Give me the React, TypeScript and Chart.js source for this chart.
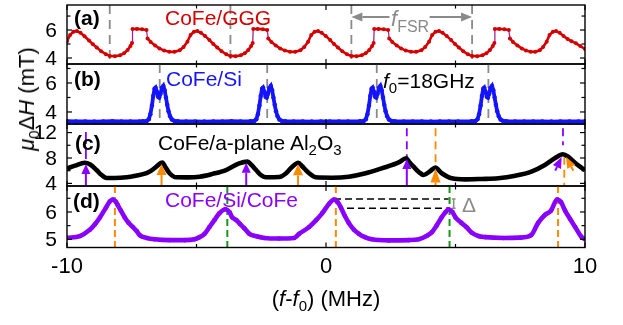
import React, { useEffect, useRef } from 'react';
import { Chart, registerables } from 'chart.js';

Chart.register(...registerables);

const FONT = '"Liberation Sans", Arial, Helvetica, sans-serif';
const W = 623;
const H = 325;

// ---------- shared x axis ----------
const xMin = -10;
const xMax = 10;
const xMajor = [-10, 0, 10];
const xMinor = [-5, 5];
const xLabels = [-10, 0, 10];

// ---------- (a) CoFe/GGG ----------
const aX = [
  -10.0, -9.88, -9.75, -9.62, -9.48, -9.32, -9.15, -9.0, -8.85, -8.68, -8.5,
  -8.35, -8.15, -7.95, -7.8, -7.66, -7.55, -7.49, -7.47, -7.3, -7.1, -6.93, -6.89, -6.77, -6.6, -6.43, -6.25, -6.05, -5.85, -5.65, -5.5, -5.35, -5.23, -5.1, -4.97, -4.83, -4.67, -4.5, -4.35, -4.2, -4.03, -3.85,
  -3.69, -3.49, -3.29, -3.14, -3.0, -2.89, -2.83, -2.81, -2.64, -2.44, -2.27, -2.23, -2.11, -1.94, -1.77, -1.59, -1.39, -1.19, -0.99, -0.84, -0.69, -0.57, -0.44, -0.31, -0.17, -0.01, 0.16, 0.31, 0.46, 0.63, 0.81,
  0.98, 1.18, 1.38, 1.53, 1.67, 1.78, 1.84, 1.86, 2.03, 2.23, 2.4, 2.44, 2.56, 2.73, 2.9, 3.08, 3.28, 3.48, 3.68, 3.83, 3.98, 4.1, 4.23, 4.36, 4.5, 4.66, 4.83, 4.98, 5.13, 5.3, 5.48,
  5.64, 5.84, 6.04, 6.19, 6.33, 6.44, 6.5, 6.52, 6.69, 6.89, 7.06, 7.1, 7.22, 7.39, 7.56, 7.72, 7.9, 8.08, 8.25, 8.38, 8.52, 8.63, 8.76, 8.88, 9.02, 9.17, 9.33, 9.48, 9.65, 9.82, 10.0,
];
const aY = [
  5.2, 5.65, 5.88, 5.93, 5.8, 5.55, 5.25, 4.98, 4.75, 4.48, 4.27,
  4.14, 4.13, 4.2, 4.33, 4.57, 4.85, 5.07, 6.07, 6.08, 6.06, 6.0, 5.4, 5.15, 4.9, 4.68, 4.53, 4.45, 4.44, 4.55, 4.78, 5.17, 5.65, 5.88, 5.93, 5.8, 5.58, 5.28, 5.0, 4.75, 4.48, 4.26,
  4.15, 4.13, 4.2, 4.33, 4.57, 4.85, 5.07, 6.07, 6.08, 6.06, 6.0, 5.4, 5.15, 4.9, 4.68, 4.53, 4.45, 4.44, 4.55, 4.78, 5.17, 5.65, 5.88, 5.93, 5.8, 5.58, 5.28, 5.0, 4.75, 4.48, 4.26,
  4.14, 4.13, 4.2, 4.33, 4.57, 4.85, 5.07, 6.07, 6.08, 6.06, 6.0, 5.4, 5.15, 4.9, 4.68, 4.53, 4.45, 4.44, 4.55, 4.78, 5.17, 5.65, 5.88, 5.93, 5.8, 5.58, 5.28, 5.0, 4.75, 4.48, 4.26,
  4.14, 4.13, 4.2, 4.33, 4.57, 4.85, 5.07, 6.07, 6.08, 6.06, 6.0, 5.4, 5.15, 4.9, 4.68, 4.53, 4.45, 4.44, 4.55, 4.78, 5.17, 5.65, 5.88, 5.93, 5.8, 5.58, 5.35, 5.2, 5.05, 4.85, 4.65,
];
const aDashX = [-8.35, -3.69, 0.98, 5.64];
const aRange = [3.57, 7.79];
const aMajor = [4, 6];
const aMinor = [5, 7];
const aLabels = [4, 6];
const aFsrLevel = 6.93;
const aFsrGap = [2.45, 4.0];

// ---------- (b) CoFe/Si ----------
const bX = [
  -10, -9.65, -9.3, -8.95, -8.6, -8.25, -7.9, -7.55, -7.2,
  -7.07, -6.92, -6.84, -6.78, -6.72, -6.67, -6.62, -6.58, -6.53, -6.48, -6.44, -6.39, -6.34, -6.28, -6.23, -6.18, -6.13, -6.08, -6.02, -5.95, -5.85, -5.72,
  -5.4, -5.05, -4.7, -4.35, -4.0, -3.65, -3.3,
  -2.92, -2.77, -2.69, -2.63, -2.57, -2.52, -2.47, -2.43, -2.38, -2.33, -2.29, -2.24, -2.19, -2.13, -2.08, -2.03, -1.98, -1.93, -1.87, -1.8, -1.7, -1.57,
  -1.25, -0.9, -0.55, -0.2, 0.15, 0.5, 0.85,
  1.31, 1.46, 1.54, 1.6, 1.66, 1.71, 1.76, 1.8, 1.85, 1.9, 1.94, 1.99, 2.04, 2.1, 2.15, 2.2, 2.25, 2.3, 2.36, 2.43, 2.53, 2.66,
  3.0, 3.35, 3.7, 4.05, 4.4, 4.75, 5.1,
  5.62, 5.77, 5.85, 5.91, 5.97, 6.02, 6.07, 6.11, 6.16, 6.21, 6.25, 6.3, 6.35, 6.41, 6.46, 6.51, 6.56, 6.61, 6.67, 6.74, 6.84, 6.97,
  7.3, 7.65, 8.0, 8.35, 8.7, 9.05, 9.4, 9.75, 10.0,
];
const bY = [
  3.36, 3.35, 3.35, 3.34, 3.35, 3.36, 3.35, 3.35, 3.35,
  3.36, 3.38, 3.5, 3.85, 4.45, 5.1, 5.6, 5.68, 5.4, 5.05, 5.0, 5.25, 5.65, 5.8, 5.5, 5.0, 4.5, 4.05, 3.7, 3.48, 3.38, 3.36,
  3.35, 3.35, 3.34, 3.35, 3.35, 3.36, 3.35,
  3.36, 3.38, 3.5, 3.85, 4.45, 5.1, 5.6, 5.68, 5.4, 5.05, 5.0, 5.25, 5.65, 5.8, 5.5, 5.0, 4.5, 4.05, 3.7, 3.48, 3.38, 3.36,
  3.35, 3.35, 3.34, 3.35, 3.35, 3.35, 3.35,
  3.36, 3.38, 3.5, 3.85, 4.45, 5.1, 5.6, 5.68, 5.4, 5.05, 5.0, 5.25, 5.65, 5.8, 5.5, 5.0, 4.5, 4.05, 3.7, 3.48, 3.38, 3.36,
  3.35, 3.35, 3.35, 3.34, 3.35, 3.35, 3.35,
  3.36, 3.38, 3.5, 3.85, 4.45, 5.1, 5.6, 5.68, 5.4, 5.05, 5.0, 5.25, 5.65, 5.8, 5.5, 5.0, 4.5, 4.05, 3.7, 3.48, 3.38, 3.36,
  3.35, 3.35, 3.35, 3.35, 3.34, 3.35, 3.35, 3.35, 3.35,
];
const bDashX = [-6.42, -2.27, 1.96, 6.27];
const bRange = [3.17, 7.31];
const bMajor = [4, 6];
const bMinor = [5, 7];
const bLabels = [4, 6];

// ---------- (c) CoFe/a-plane Al2O3 ----------
const cX = [
  -10.0, -9.69, -9.31, -9.12, -8.86, -8.69, -8.47, -8.15, -7.7, -7.35, -6.93, -6.73, -6.55, -6.32, -6.19, -6.04, -5.78, -5.35, -4.88, -4.38,
  -3.86, -3.35, -3.03, -2.88, -2.7, -2.54, -2.32, -1.81, -1.54, -1.3, -1.07, -0.92, -0.78, -0.65, -0.4, 0.23, 0.88, 1.53, 2.15, 2.81,
  3.09, 3.23, 3.38, 3.58, 3.77, 4.03, 4.22, 4.47, 4.86, 5.37, 6.0, 6.65, 7.31, 7.93, 8.45, 8.83, 9.15, 9.35, 9.6, 9.86, 10.0,
];
const cY = [
  6.35, 6.8, 7.26, 7.0, 6.1, 5.4, 4.85, 4.85, 4.96, 5.2, 5.6, 6.05, 6.63, 7.3, 6.5, 5.6, 4.96, 4.95, 5.06, 5.5,
  6.1, 7.16, 7.42, 6.9, 6.1, 5.4, 4.96, 5.0, 5.6, 6.63, 7.26, 6.7, 6.1, 5.6, 4.96, 4.9, 5.06, 5.6, 6.37, 7.3,
  7.95, 7.3, 6.63, 5.8, 5.33, 5.95, 6.48, 5.6, 4.8, 4.64, 4.7, 4.8, 5.2, 5.85, 6.9, 7.95, 8.58, 8.2, 7.3, 6.48, 6.1,
];
const cRange = [3.59, 13.35];
const cMajor = [4, 8, 12];
const cMinor = [6, 10];
const cLabels = [4, 8, 12];
const cPurpleArrowX = [-9.27, -3.08, 3.12];
const cPurpleArrowTip = [7.05, 7.25, 7.85];
const cOrangeArrowX = [-6.35, -1.08, 4.23];
const cOrangeArrowTip = [7.05, 7.0, 6.35];

// ---------- (d) CoFe/Si/CoFe ----------
const dX = [
  -10, -9.5, -9.12, -8.92, -8.73, -8.5, -8.35, -8.23, -8.12, -8.04, -7.92, -7.77, -7.62, -7.46, -7.31, -7.19, -6.92, -6.62, -6.04, -5.46,
  -5.08, -4.88, -4.69, -4.5, -4.31, -4.12, -3.88, -3.73, -3.62, -3.46, -3.31, -3.15, -2.96, -2.65, -2.38, -1.81, -1.23, -1.04, -0.65, -0.38,
  -0.15, 0.12, 0.31, 0.46, 0.58, 0.73, 0.88, 1.08, 1.27, 1.5, 1.77, 2.42, 3.19, 3.58, 3.88, 4.08, 4.27, 4.46, 4.62, 4.73,
  4.88, 5.0, 5.23, 5.42, 5.62, 5.88, 6.15, 6.85, 7.5, 7.92, 8.19, 8.46, 8.69, 8.92, 9.08, 9.23, 9.42, 9.62, 9.85, 10.0,
];
const dY = [
  5.05, 5.12, 5.35, 5.55, 5.8, 6.15, 6.38, 6.45, 6.38, 6.25, 6.05, 5.8, 5.6, 5.45, 5.3, 5.15, 5.05, 5.0, 4.97, 4.97,
  5.0, 5.08, 5.2, 5.45, 5.7, 5.95, 6.1, 6.0, 5.8, 5.7, 5.55, 5.4, 5.2, 5.1, 5.05, 5.03, 5.05, 5.2, 5.45, 5.7,
  5.95, 6.3, 6.45, 6.35, 6.15, 5.85, 5.6, 5.35, 5.2, 5.08, 5.0, 4.96, 4.97, 5.0, 5.12, 5.25, 5.5, 5.8, 6.0, 6.1,
  6.0, 5.8, 5.6, 5.45, 5.25, 5.12, 5.08, 5.05, 5.06, 5.15, 5.6, 5.9, 6.05, 6.45, 6.35, 6.05, 5.75, 5.45, 5.1, 5.0,
];
const dRange = [4.7, 6.95];
const dMajor = [5, 6];
const dMinor = [5.5, 6.5];
const dLabels = [5, 6];
const dOrangeX = [-8.15, 0.38, 8.96];
const dGreenX = [-3.81, 4.77];
const dDeltaHigh = 6.47;
const dDeltaLow = 6.14;
const dDeltaHighStart = 0.31;
const dDeltaLowStart = 0.81;
const dDeltaEnd = 4.73;
const dBracketX = 4.93;

// ---------- styles ----------
const GREY = '#8a8a8a';
const PURPLE = '#8a00ff';
const ORANGE = '#ff8a00';
const GREEN = '#18961a';
const RED = '#d40000';
const BLUE = '#1414ff';

type VLine = { x: number; yTop?: number; yBot?: number; color: string; dash: number[]; width: number };
type HSeg = { x0: number; x1: number; y: number; color: string; dash: number[]; width: number };
type Arrow = { x0: number; y0: number | null; x1: number; y1: number; color: string; headLen: number; headW: number; stemW: number };

type Panel = {
  key: string;
  top: number;
  bottom: number;
  yMin: number;
  yMax: number;
  yMajor: number[];
  yMinor: number[];
  yLabels: number[];
  xs: number[];
  ys: number[];
  ds: Record<string, any>;
  vlines: VLine[];
  hsegs: HSeg[];
  arrows: Arrow[];
  xLabels: boolean;
};

const jump = (c: any) => Math.abs(c.p1.parsed.y - c.p0.parsed.y) > 0.5;

const panels: Panel[] = [
  {
    key: 'a', top: 5, bottom: 64, yMin: aRange[0], yMax: aRange[1],
    yMajor: aMajor, yMinor: aMinor, yLabels: aLabels, xs: aX, ys: aY,
    ds: {
      borderColor: RED, borderWidth: 2.6, pointRadius: 2, pointBackgroundColor: RED, pointBorderWidth: 0, tension: 0,
      segment: {
        borderColor: (c: any) => (jump(c) ? '#a0289a' : undefined),
        borderWidth: (c: any) => (jump(c) ? 1.3 : undefined),
      },
    },
    vlines: aDashX.map((x) => ({ x, color: GREY, dash: [9, 6], width: 1.8 })),
    hsegs: [],
    arrows: [
      { x0: aFsrGap[0], y0: aFsrLevel, x1: aDashX[2], y1: aFsrLevel, color: GREY, headLen: 11, headW: 4.5, stemW: 2 },
      { x0: aFsrGap[1], y0: aFsrLevel, x1: aDashX[3], y1: aFsrLevel, color: GREY, headLen: 11, headW: 4.5, stemW: 2 },
    ],
    xLabels: false,
  },
  {
    key: 'b', top: 64, bottom: 124, yMin: bRange[0], yMax: bRange[1],
    yMajor: bMajor, yMinor: bMinor, yLabels: bLabels, xs: bX, ys: bY,
    ds: { borderColor: BLUE, borderWidth: 3.8, pointRadius: 2.2, pointBackgroundColor: BLUE, pointBorderWidth: 0, tension: 0 },
    vlines: bDashX.map((x) => ({ x, color: GREY, dash: [9, 6], width: 1.8 })),
    hsegs: [],
    arrows: [],
    xLabels: false,
  },
  {
    key: 'c', top: 124, bottom: 186, yMin: cRange[0], yMax: cRange[1],
    yMajor: cMajor, yMinor: cMinor, yLabels: cLabels, xs: cX, ys: cY,
    ds: { borderColor: '#000', borderWidth: 4.6, pointRadius: 0, cubicInterpolationMode: 'monotone' },
    vlines: [
      { x: cPurpleArrowX[0], yTop: 12.1, yBot: 7.1, color: PURPLE, dash: [12, 3], width: 1.8 },
      { x: cPurpleArrowX[2], yTop: 12.7, yBot: 8.0, color: PURPLE, dash: [8, 5], width: 1.8 },
      { x: cOrangeArrowX[2], yTop: 12.7, yBot: 6.6, color: ORANGE, dash: [8, 5], width: 1.8 },
      { x: 9.15, yTop: 12.7, yBot: 10.0, color: PURPLE, dash: [8, 5], width: 1.8 },
      { x: 9.2, yTop: 8.2, color: ORANGE, dash: [8, 5], width: 1.8 },
    ],
    hsegs: [],
    arrows: [
      ...cPurpleArrowX.map((x, i) => ({ x0: x, y0: null, x1: x, y1: cPurpleArrowTip[i], color: PURPLE, headLen: 10, headW: 4.5, stemW: 2 })),
      ...cOrangeArrowX.map((x, i) => ({ x0: x, y0: null, x1: x, y1: cOrangeArrowTip[i], color: ORANGE, headLen: i === 2 ? 14 : 11, headW: 5, stemW: 2 })),
      { x0: 8.85, y0: 6.0, x1: 9.1, y1: 8.15, color: PURPLE, headLen: 11, headW: 4.5, stemW: 2 },
      { x0: 9.55, y0: 6.0, x1: 9.27, y1: 8.15, color: ORANGE, headLen: 11, headW: 4.5, stemW: 2 },
    ],
    xLabels: false,
  },
  {
    key: 'd', top: 186, bottom: 247.5, yMin: dRange[0], yMax: dRange[1],
    yMajor: dMajor, yMinor: dMinor, yLabels: dLabels, xs: dX, ys: dY,
    ds: { borderColor: PURPLE, borderWidth: 4.6, pointRadius: 2.3, pointBackgroundColor: PURPLE, pointBorderWidth: 0, cubicInterpolationMode: 'monotone' },
    vlines: [
      ...dOrangeX.map((x) => ({ x, color: ORANGE, dash: [7, 4], width: 2 })),
      ...dGreenX.map((x) => ({ x, color: GREEN, dash: [7, 4], width: 2 })),
      { x: dBracketX, yTop: dDeltaHigh, yBot: dDeltaLow, color: GREY, dash: [], width: 1.5 },
    ],
    hsegs: [
      { x0: dDeltaHighStart, x1: dDeltaEnd, y: dDeltaHigh, color: '#000', dash: [7, 4], width: 1.5 },
      { x0: dDeltaLowStart, x1: dDeltaEnd, y: dDeltaLow, color: '#000', dash: [7, 4], width: 1.5 },
      { x0: dBracketX - 0.07, x1: dBracketX + 0.07, y: dDeltaHigh, color: GREY, dash: [], width: 1.5 },
      { x0: dBracketX - 0.07, x1: dBracketX + 0.07, y: dDeltaLow, color: GREY, dash: [], width: 1.5 },
    ],
    arrows: [],
    xLabels: true,
  },
];

function makeDeco(p: Panel) {
  return {
    id: 'deco_' + p.key,
    beforeDatasetsDraw(chart: any) {
      const ctx = chart.ctx as CanvasRenderingContext2D;
      const { left, right, top, bottom } = chart.chartArea;
      const X = (v: number) => chart.scales.x.getPixelForValue(v);
      const Y = (v: number) => chart.scales.y.getPixelForValue(v);
      ctx.save();
      ctx.beginPath();
      ctx.rect(left, top, right - left, bottom - top);
      ctx.clip();
      for (const l of p.vlines) {
        const px = X(l.x);
        const y0 = l.yTop == null ? top : Y(l.yTop);
        const y1 = l.yBot == null ? bottom : Y(l.yBot);
        ctx.strokeStyle = l.color;
        ctx.lineWidth = l.width;
        ctx.setLineDash(l.dash);
        ctx.beginPath();
        ctx.moveTo(px, y0);
        ctx.lineTo(px, y1);
        ctx.stroke();
      }
      for (const s of p.hsegs) {
        const py = Y(s.y);
        ctx.strokeStyle = s.color;
        ctx.lineWidth = s.width;
        ctx.setLineDash(s.dash);
        ctx.beginPath();
        ctx.moveTo(X(s.x0), py);
        ctx.lineTo(X(s.x1), py);
        ctx.stroke();
      }
      ctx.restore();
    },
    afterDatasetsDraw(chart: any) {
      const ctx = chart.ctx as CanvasRenderingContext2D;
      const { left, right, top, bottom } = chart.chartArea;
      const X = (v: number) => chart.scales.x.getPixelForValue(v);
      const Y = (v: number) => chart.scales.y.getPixelForValue(v);
      ctx.save();
      for (const a of p.arrows) {
        const tx = X(a.x0);
        const ty = a.y0 == null ? bottom : Y(a.y0);
        const hx = X(a.x1);
        const hy = Y(a.y1);
        const dx = hx - tx;
        const dy = hy - ty;
        const len = Math.hypot(dx, dy) || 1;
        const ux = dx / len;
        const uy = dy / len;
        const bx = hx - ux * a.headLen;
        const by = hy - uy * a.headLen;
        ctx.setLineDash([]);
        if (len > a.headLen) {
          ctx.strokeStyle = a.color;
          ctx.lineWidth = a.stemW;
          ctx.beginPath();
          ctx.moveTo(tx, ty);
          ctx.lineTo(bx, by);
          ctx.stroke();
        }
        const nx = -uy;
        const ny = ux;
        ctx.fillStyle = a.color;
        ctx.beginPath();
        ctx.moveTo(hx, hy);
        ctx.lineTo(bx + nx * a.headW, by + ny * a.headW);
        ctx.lineTo(bx - nx * a.headW, by - ny * a.headW);
        ctx.closePath();
        ctx.fill();
      }
      ctx.setLineDash([]);
      ctx.strokeStyle = '#000';
      ctx.lineWidth = 1.4;
      ctx.strokeRect(left, top, right - left, bottom - top);
      ctx.lineWidth = 1.2;
      const tick = (x1: number, y1: number, x2: number, y2: number) => {
        ctx.beginPath();
        ctx.moveTo(x1, y1);
        ctx.lineTo(x2, y2);
        ctx.stroke();
      };
      const xt = [...xMajor.map((v) => [v, 5]), ...xMinor.map((v) => [v, 3.5])];
      for (const [v, l] of xt) {
        const px = X(v);
        tick(px, bottom, px, bottom - l);
        tick(px, top, px, top + l);
      }
      const yt = [...p.yMajor.map((v) => [v, 5]), ...p.yMinor.map((v) => [v, 3.5])];
      for (const [v, l] of yt) {
        const py = Y(v);
        tick(left, py, left + l, py);
        tick(right, py, right - l, py);
      }
      ctx.fillStyle = '#000';
      ctx.font = `21px ${FONT}`;
      ctx.textAlign = 'right';
      ctx.textBaseline = 'middle';
      for (const v of p.yLabels) ctx.fillText(String(v), left - 10, Y(v) + 1);
      if (p.xLabels) {
        ctx.font = `22px ${FONT}`;
        ctx.textAlign = 'center';
        for (const v of xLabels) ctx.fillText(String(v), X(v), bottom + 19);
      }
      ctx.restore();
    },
  };
}

function PanelChart({ p }: { p: Panel }) {
  const ref = useRef<HTMLCanvasElement>(null);
  useEffect(() => {
    if (!ref.current) return;
    const chart = new Chart(ref.current, {
      type: 'line',
      data: {
        datasets: [
          {
            data: p.xs.map((x, i) => ({ x, y: p.ys[i] })),
            ...p.ds,
          } as any,
        ],
      },
      options: {
        animation: false,
        responsive: false,
        maintainAspectRatio: false,
        events: [],
        layout: { padding: { left: 67, right: 38, top: p.top, bottom: H - p.bottom } },
        plugins: { legend: { display: false }, tooltip: { enabled: false }, title: { display: false } },
        scales: {
          x: { type: 'linear', min: xMin, max: xMax, display: false },
          y: { type: 'linear', min: p.yMin, max: p.yMax, display: false },
        },
      } as any,
      plugins: [makeDeco(p)],
    });
    return () => chart.destroy();
  }, [p]);
  return (
    <canvas
      ref={ref}
      width={W}
      height={H}
      style={{ position: 'absolute', left: 0, top: 0, width: W, height: H }}
    />
  );
}

const Sub = ({ children, size = 15, shift = 5 }: { children: React.ReactNode; size?: number; shift?: number }) => (
  <span style={{ fontSize: size, verticalAlign: `-${shift}px`, lineHeight: 0 }}>{children}</span>
);

function Txt({ left, baseline, size = 21, color = '#000', bold = false, children }: any) {
  return (
    <div
      style={{
        position: 'absolute',
        left,
        top: baseline - 0.8465 * size,
        fontFamily: FONT,
        fontSize: size,
        lineHeight: `${size}px`,
        color,
        fontWeight: bold ? 'bold' : 'normal',
        whiteSpace: 'nowrap',
      }}
    >
      {children}
    </div>
  );
}

export default function App() {
  return (
    <div style={{ position: 'absolute', left: 0, top: 0, width: W, height: H, background: '#fff', overflow: 'hidden' }}>
      {panels.map((p) => (
        <PanelChart key={p.key} p={p} />
      ))}
      <Txt left={74} baseline={25} bold>(a)</Txt>
      <Txt left={165} baseline={25} color={RED}>CoFe/GGG</Txt>
      <Txt left={391} baseline={27} size={22} color={GREY}>
        <i>f</i>
        <Sub size={16} shift={6}>FSR</Sub>
      </Txt>
      <Txt left={74} baseline={86} bold>(b)</Txt>
      <Txt left={166} baseline={86} color={BLUE}>CoFe/Si</Txt>
      <Txt left={383} baseline={88}>
        <i>f</i>
        <Sub>0</Sub>=18GHz
      </Txt>
      <Txt left={75} baseline={150} bold>(c)</Txt>
      <Txt left={158} baseline={150}>
        CoFe/a-plane Al<Sub>2</Sub>O<Sub>3</Sub>
      </Txt>
      <Txt left={73} baseline={208} bold>(d)</Txt>
      <Txt left={165} baseline={207} color={PURPLE}>CoFe/Si/CoFe</Txt>
      <Txt left={462} baseline={212} color={GREY}>Δ</Txt>
      <div
        style={{
          position: 'absolute',
          left: 27,
          top: 99,
          transform: 'translate(-50%, -50%) rotate(-90deg)',
          fontFamily: FONT,
          fontSize: 22,
          lineHeight: '22px',
          whiteSpace: 'nowrap',
          color: '#000',
        }}
      >
        <i>μ</i>
        <Sub>0</Sub>Δ<i>H</i> (mT)
      </div>
      <div
        style={{
          position: 'absolute',
          left: 326,
          top: 307 - 0.8465 * 22,
          transform: 'translateX(-50%)',
          fontFamily: FONT,
          fontSize: 22,
          lineHeight: '22px',
          whiteSpace: 'nowrap',
          color: '#000',
        }}
      >
        (<i>f</i>-<i>f</i>
        <Sub>0</Sub>) (MHz)
      </div>
    </div>
  );
}
